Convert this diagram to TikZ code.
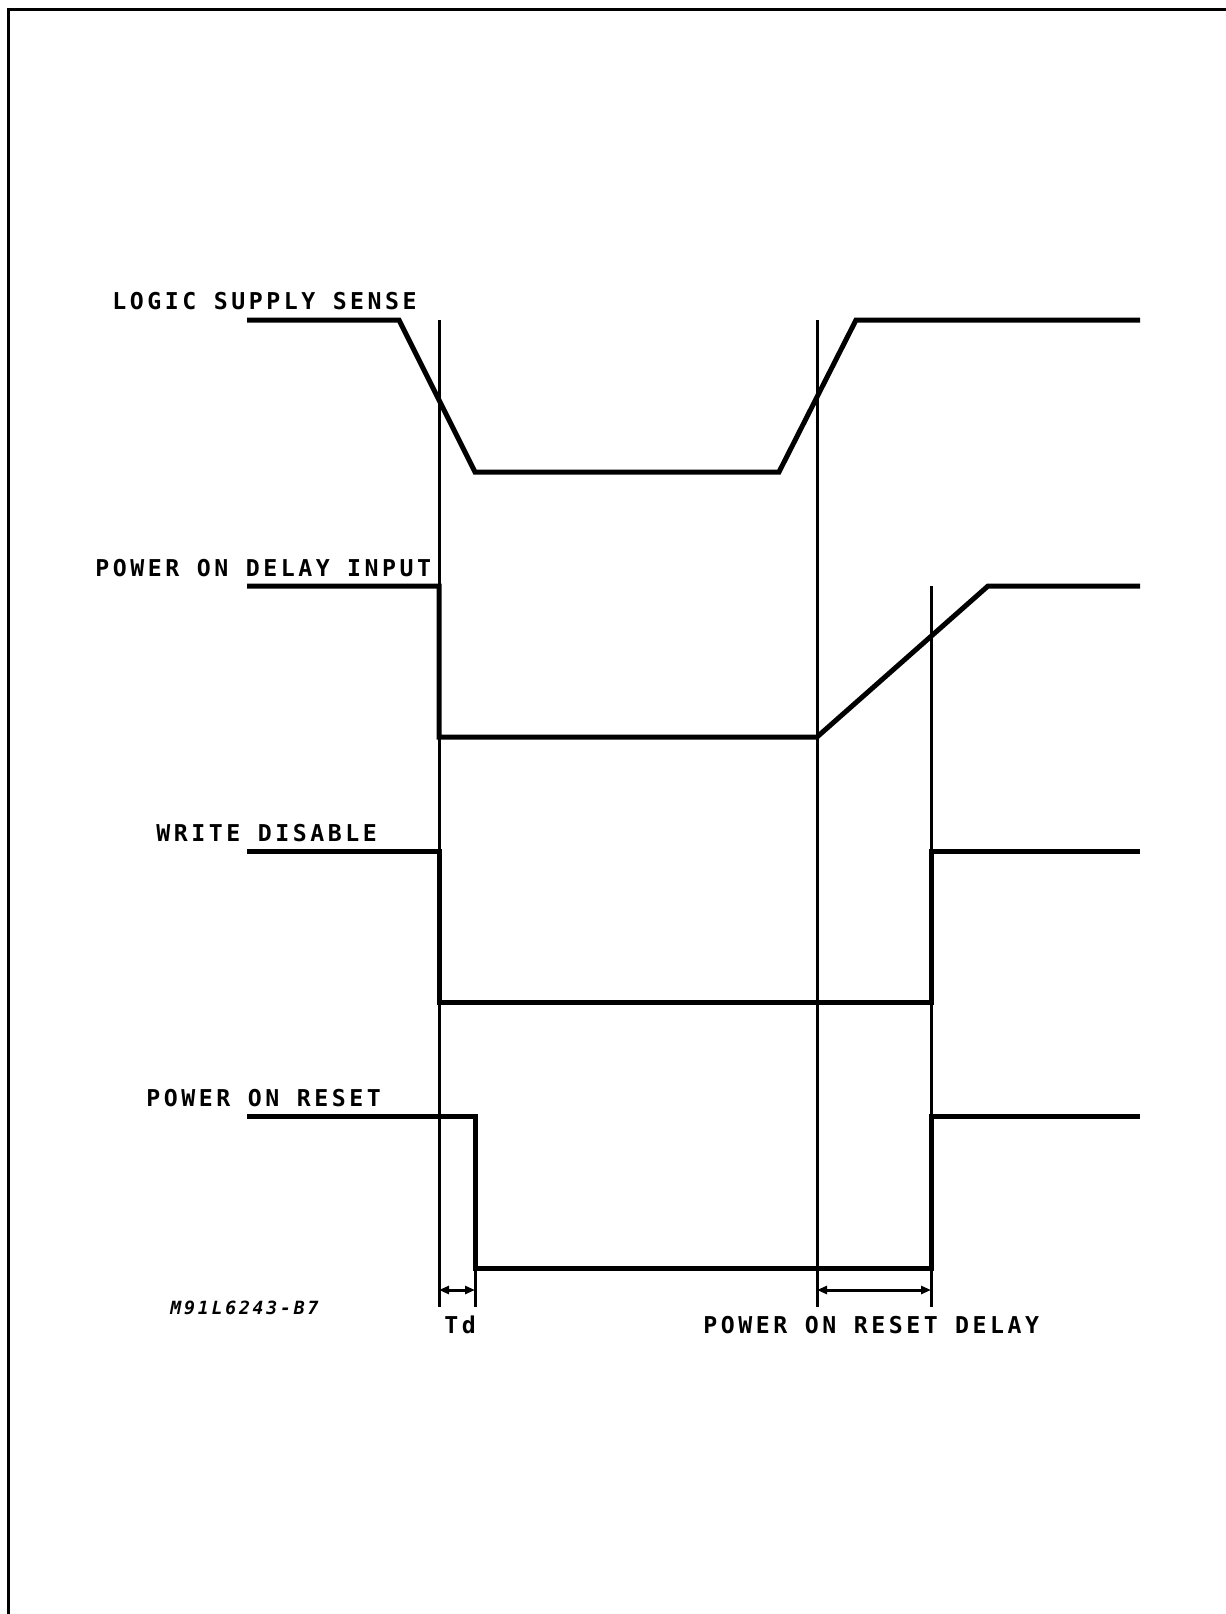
\documentclass[tikz,border=0pt]{standalone}
\usepackage{fontspec}
\newfontfamily\plotfont{DejaVu Sans Mono}[LetterSpace=15.2]
\usetikzlibrary{arrows.meta}

\tikzset{
  sig/.style={line width=2.5pt,line join=miter},
  guide/.style={line width=1.5pt},
  lbl/.style={anchor=base west,inner sep=0pt,font=\plotfont\bfseries\fontsize{11.6}{13}\selectfont},
  dim/.style={guide,{Triangle[length=5pt,width=4pt]}-{Triangle[length=5pt,width=4pt]}}
}

\begin{document}
\begin{tikzpicture}[x=0.5pt,y=-0.5pt]
  \useasboundingbox (0,0) rectangle (1226,1614);
  \draw[line width=1.5pt] (8.5,1614) -- (8.5,9.5) -- (1226,9.5);
  \node[lbl] (lss) at (112,309) {LOGIC SUPPLY SENSE};
  \node[lbl] (podi) at (95,576) {POWER ON DELAY INPUT};
  \node[lbl] (wd) at (156,841) {WRITE DISABLE};
  \node[lbl] (por) at (146,1106) {POWER ON RESET};
  \node[lbl] (td) at (444,1333) {Td};
  \node[lbl] (pord) at (703,1333) {POWER ON RESET DELAY};
  \node[lbl,font=\plotfont\bfseries\itshape\fontsize{9.1}{11}\selectfont] (ref) at (170,1314) {M91L6243-B7};
  \draw[sig] (247,320) -- (399,320) -- (475,472) -- (779,472) -- (856,320) -- (1140,320);
  \draw[sig] (247,586) -- (439,586) -- (439,737) -- (817,737) -- (988,586) -- (1140,586);
  \draw[sig] (247,851) -- (439,851) -- (439,1002) -- (931,1002) -- (931,851) -- (1140,851);
  \draw[sig] (247,1116) -- (475,1116) -- (475,1268) -- (931,1268) -- (931,1116) -- (1140,1116);
  \draw[guide] (439,320) -- (439,1307);
  \draw[guide] (817,320) -- (817,1307);
  \draw[guide] (931,586) -- (931,1307);
  \draw[guide] (475,1268) -- (475,1307);
  \coordinate (tda) at (439,1290);
  \coordinate (tdb) at (475,1290);
  \coordinate (pra) at (817,1290);
  \coordinate (prb) at (931,1290);
  \draw[dim] (tda) -- (tdb);
  \draw[dim] (pra) -- (prb);
\end{tikzpicture}
\end{document}
